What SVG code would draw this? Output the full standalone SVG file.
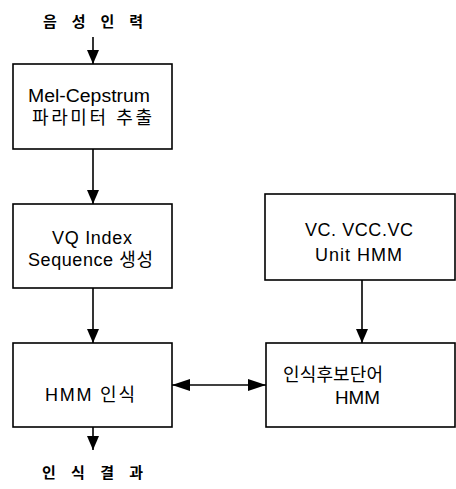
<svg xmlns="http://www.w3.org/2000/svg" width="456" height="489" viewBox="0 0 456 489">
<defs>
<style>
.box{fill:#fff;stroke:#000;stroke-width:1.6}
.t{font-family:"Liberation Sans","Noto Sans CJK KR",sans-serif;font-size:18px;fill:#000;dominant-baseline:central}
.lbl{font-family:"Noto Sans CJK KR","Liberation Sans",sans-serif;font-size:15px;font-weight:bold;fill:#000;dominant-baseline:central}
.c{stroke:#000;stroke-width:1.6;fill:none}
</style>
<marker id="ah" markerUnits="userSpaceOnUse" markerWidth="16" markerHeight="12" refX="14" refY="6" orient="auto-start-reverse">
<path d="M0,0 L14,6 L0,12 Z" fill="#000"/>
</marker>
<marker id="ah2" markerUnits="userSpaceOnUse" markerWidth="20" markerHeight="12" refX="18" refY="6" orient="auto-start-reverse">
<path d="M0,0 L18,6 L0,12 Z" fill="#000"/>
</marker>
</defs>
<rect width="456" height="489" fill="#fff"/>
<text class="lbl" x="43" y="20" textLength="100" lengthAdjust="spacing">음 성 인 력</text>
<text class="lbl" x="42" y="471" textLength="101" lengthAdjust="spacing">인 식 결 과</text>
<g id="connectors">
<line class="c" x1="93" y1="37" x2="93" y2="64" marker-end="url(#ah)"/>
<line class="c" x1="93" y1="149" x2="93" y2="204" marker-end="url(#ah)"/>
<line class="c" x1="93" y1="288" x2="93" y2="343" marker-end="url(#ah)"/>
<line class="c" x1="93" y1="427" x2="93" y2="450" marker-end="url(#ah)"/>
<line class="c" x1="362" y1="280" x2="362" y2="343" marker-end="url(#ah)"/>
<line class="c" x1="172" y1="385" x2="266" y2="385" marker-start="url(#ah2)" marker-end="url(#ah2)"/>
</g>
<g id="mel">
<rect class="box" x="13" y="64" width="159" height="85"/>
<text class="t" x="28" y="96" textLength="122" lengthAdjust="spacingAndGlyphs">Mel-Cepstrum</text>
<text class="t" x="32" y="118" textLength="120" lengthAdjust="spacing">파라미터 추출</text>
</g>
<g id="vq">
<rect class="box" x="13" y="204" width="159" height="84"/>
<text class="t" x="52" y="238" textLength="80" lengthAdjust="spacing">VQ Index</text>
<text class="t" x="28" y="260" textLength="125" lengthAdjust="spacing">Sequence 생성</text>
</g>
<g id="hmm">
<rect class="box" x="13" y="343" width="159" height="84"/>
<text class="t" x="45" y="395" textLength="90" lengthAdjust="spacing">HMM 인식</text>
</g>
<g id="vc">
<rect class="box" x="265" y="194" width="190" height="86"/>
<text class="t" x="305" y="230" textLength="108" lengthAdjust="spacing">VC. VCC.VC</text>
<text class="t" x="315" y="255" textLength="87" lengthAdjust="spacing">Unit HMM</text>
</g>
<g id="cand">
<rect class="box" x="266" y="343" width="189" height="84"/>
<text class="t" x="283" y="375" textLength="100" lengthAdjust="spacing">인식후보단어</text>
<text class="t" x="335" y="398" textLength="45" lengthAdjust="spacingAndGlyphs">HMM</text>
</g>
</svg>
